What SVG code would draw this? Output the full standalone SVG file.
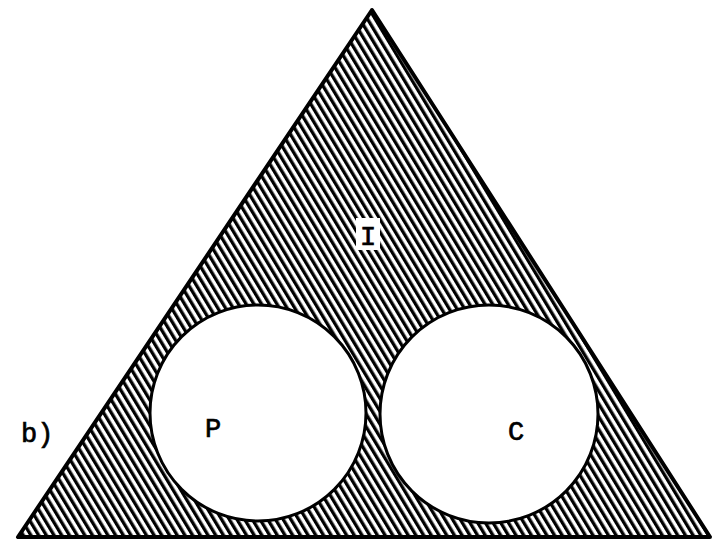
<svg xmlns="http://www.w3.org/2000/svg" width="714" height="545" viewBox="0 0 714 545">
  <defs>
    <pattern id="hatch" patternUnits="userSpaceOnUse" width="6.6" height="20" patternTransform="rotate(-31)">
      <rect x="0" y="0" width="3.3" height="20" fill="#000"/>
    </pattern>
    <clipPath id="tri">
      <polygon points="372,10 18,537 710,537"/>
    </clipPath>
  </defs>
  <style>
    .lbl { font-family: "Liberation Mono", "DejaVu Sans Mono", monospace; font-size: 27px; fill: #000; stroke: #000; stroke-width: 0.7; }
    .edge { fill: none; stroke: #000; stroke-width: 4; stroke-linejoin: round; }
    .hole { fill: #fff; stroke: #000; stroke-width: 3; }
  </style>
  <rect width="714" height="545" fill="#fff"/>
  <g id="triangle">
    <polygon points="372,10 18,537 710,537" fill="url(#hatch)"/>
    <polygon class="edge" points="372,10 18,537 710,537"/>
  </g>
  <g id="label-I">
    <rect x="356" y="218" width="24" height="32" fill="#fff"/>
    <text class="lbl" x="368" y="245" text-anchor="middle">I</text>
  </g>
  <g clip-path="url(#tri)">
    <g id="P">
      <circle class="hole" cx="258" cy="413" r="108"/>
      <text class="lbl" x="213" y="437" text-anchor="middle">P</text>
    </g>
    <g id="C">
      <circle class="hole" cx="489" cy="414" r="109"/>
      <text class="lbl" x="516" y="440" text-anchor="middle">C</text>
    </g>
  </g>
  <g id="caption">
    <text class="lbl" x="21" y="442">b)</text>
  </g>
  <g id="connectors"/>
</svg>
